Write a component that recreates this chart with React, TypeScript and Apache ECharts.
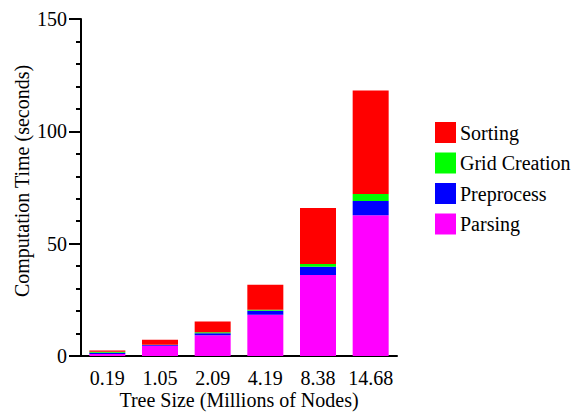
import React, { useEffect, useRef } from "react";
import * as echarts from "echarts";

const categories = ["0.19", "1.05", "2.09", "4.19", "8.38", "14.68"];
const parsing = [0.9, 4.6, 9.2, 18.4, 36.1, 62.7];
const preprocess = [0.5, 0.3, 0.9, 1.7, 3.6, 6.3];
const gridCreation = [0.5, 0.1, 0.5, 0.5, 1.3, 3.1];
const sorting = [0.6, 2.2, 4.8, 11.1, 24.9, 46.1];
const legendOrder = ["Sorting", "Grid Creation", "Preprocess", "Parsing"];

const FONT = "Liberation Serif, Times New Roman, serif";

export default function App() {
  const ref = useRef<HTMLDivElement>(null);
  useEffect(() => {
    if (!ref.current) return;
    const chart = echarts.init(ref.current, undefined, { renderer: "svg" });
    const mk = (name: string, data: number[], color: string) => ({
      name,
      type: "bar",
      stack: "total",
      data,
      barWidth: 36,
      itemStyle: { color },
      emphasis: { disabled: true },
    });
    chart.setOption({
      animation: false,
      backgroundColor: "#ffffff",
      textStyle: { fontFamily: FONT, color: "#000" },
      grid: {
        left: 81,
        right: 176,
        top: 19,
        bottom: 56,
        containLabel: false,
        outerBoundsMode: "none",
      },
      legend: {
        data: legendOrder,
        orient: "vertical",
        left: 435,
        top: 122,
        padding: 0,
        itemWidth: 21,
        itemHeight: 21,
        itemGap: 9.5,
        icon: "rect",
        textStyle: { fontFamily: FONT, fontSize: 20, color: "#000", padding: [0, 0, 0, -1] },
        selectedMode: false,
      },
      xAxis: {
        type: "category",
        data: categories,
        name: "Tree Size (Millions of Nodes)",
        nameLocation: "middle",
        nameGap: 34,
        nameMoveOverlap: false,
        nameTextStyle: { fontFamily: FONT, fontSize: 20, lineHeight: 20, color: "#000" },
        axisLine: { show: true, lineStyle: { color: "#000", width: 2 } },
        axisTick: { show: true, alignWithLabel: true, inside: true, length: 2, lineStyle: { color: "#999" } },
        axisLabel: { fontFamily: FONT, fontSize: 20, color: "#000", margin: 12, interval: 0 },
        splitLine: { show: false },
      },
      yAxis: {
        type: "value",
        min: 0,
        max: 150,
        interval: 50,
        axisLine: { show: true, lineStyle: { color: "#000", width: 2 } },
        axisTick: { show: true, length: 12, lineStyle: { color: "#000", width: 2 } },
        minorTick: { show: true, splitNumber: 5, length: 5, lineStyle: { color: "#000", width: 2 } },
        axisLabel: { fontFamily: FONT, fontSize: 20, color: "#000", margin: 14 },
        splitLine: { show: false },
        minorSplitLine: { show: false },
      },
      graphic: [
        {
          type: "text",
          x: 22,
          y: 181,
          rotation: Math.PI / 2,
          style: {
            text: "Computation Time (seconds)",
            fontFamily: FONT,
            fontSize: 20,
            fill: "#000",
            textAlign: "center",
            textVerticalAlign: "middle",
          },
        },
      ],
      series: [
        mk("Parsing", parsing, "#ff00ff"),
        mk("Preprocess", preprocess, "#0000ff"),
        mk("Grid Creation", gridCreation, "#00ff00"),
        mk("Sorting", sorting, "#ff0000"),
      ],
    });
    return () => chart.dispose();
  }, []);
  return <div ref={ref} style={{ width: 573, height: 412, position: "absolute", left: 0, top: 0 }} />;
}
